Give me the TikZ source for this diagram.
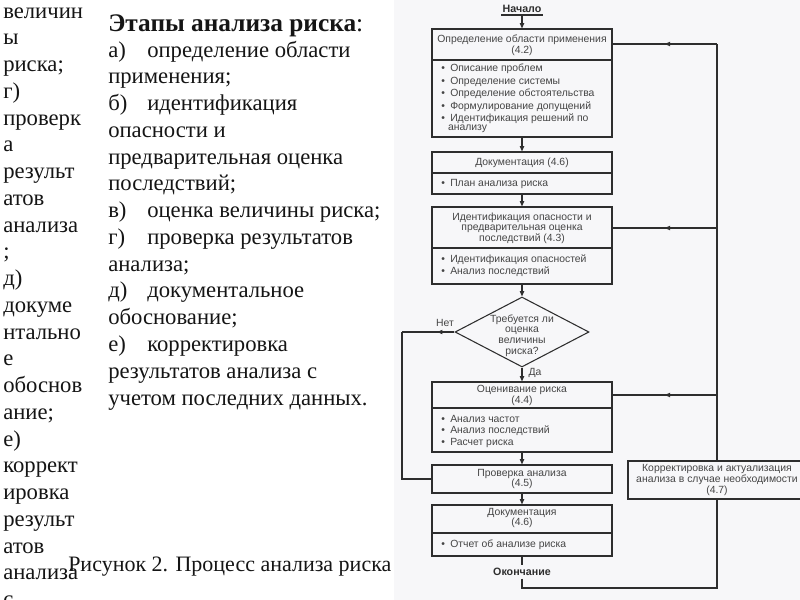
\documentclass[tikz,border=0pt]{standalone}
\usepackage{fontspec}
\setmainfont{Liberation Serif}
\newfontfamily\fcfont{Liberation Sans}
\usetikzlibrary{shapes.geometric,arrows.meta,decorations.markings}
\definecolor{bgc}{HTML}{F7F7F9}
\definecolor{lc}{HTML}{2E2E2E}
\definecolor{tc}{HTML}{454545}
\definecolor{txt}{HTML}{151515}
\begin{document}
\begin{tikzpicture}[x=0.75pt,y=-0.75pt,
  lt/.style={anchor=base west, inner sep=0, text=txt, font=\fontsize{17}{20}\selectfont},
  box/.style={draw=lc, line width=0.8pt, fill=bgc, minimum width=135pt, inner sep=0},
  ft/.style={font=\fcfont\fontsize{7.8}{8}\selectfont, text=tc, inner sep=0, align=center},
  bl/.style={font=\fcfont\fontsize{7.8}{8}\selectfont, text=tc, inner sep=0, anchor=west, align=left},
  ln/.style={draw=lc, line width=0.8pt},
  arr/.style={ln, -{Triangle[length=4pt,width=3.2pt]}},
  midarr/.style={ln, postaction={decorate}, decoration={markings, mark=at position #1 with {\arrow{Triangle[length=4pt,width=3.2pt]}}}},
  term/.style={font=\fcfont\bfseries\fontsize{8}{9}\selectfont, text=lc, inner sep=0}
]
\useasboundingbox (0,0) rectangle (800,600);
\fill[white] (0,0) rectangle (800,600);
\fill[bgc] (394,0) rectangle (800,600);

% ---------- left overflowing column ----------
\foreach \t [count=\k from 0] in {величин,ы,риска;,г),проверк,а,результ,атов,анализа,;,д),докуме,нтально,е,обоснов,ание;,е),коррект,ировка,результ,атов,анализа,с}
  \node[lt] (lc\k) at (3,{18+26.75*\k}) {\t};

% ---------- right text column ----------
\node[lt, font=\fontsize{19}{22}\selectfont] (hd) at (108,31) {\textbf{Этапы анализа риска}:};
\foreach \t [count=\k from 0] in {%
  \makebox[29.25pt][l]{а)}определение области,
  применения;,
  \makebox[29.25pt][l]{б)}идентификация,
  опасности и,
  предварительная оценка,
  последствий;,
  \makebox[29.25pt][l]{в)}оценка величины риска;,
  \makebox[29.25pt][l]{г)}проверка результатов,
  анализа;,
  \makebox[29.25pt][l]{д)}документальное,
  обоснование;,
  \makebox[29.25pt][l]{е)}корректировка,
  результатов анализа с,
  учетом последних данных.}
  \node[lt] (rc\k) at (108,{57+26.77*\k}) {\t};

\node[lt, font=\fontsize{16.5}{20}\selectfont] (cap) at (68,571) {Рисунок 2. Процесс анализа риска};

% ---------- flowchart ----------
\node[term] (start) at (522,8.5) {Начало};
\coordinate (su) at (522,15);
\draw[ln] (501,15) -- (543,15);

\node[box, minimum height=81pt] (b1) at (522,83) {};
\draw[ln] (432,60) -- (612,60);
\node[ft] (b1h) at (522,45) {Определение области применения\\(4.2)};
\node[bl] at (441,69) {\makebox[6.75pt][l]{•}Описание проблем};
\node[bl] at (441,81.5) {\makebox[6.75pt][l]{•}Определение системы};
\node[bl] at (441,94) {\makebox[6.75pt][l]{•}Определение обстоятельства};
\node[bl] at (441,106.5) {\makebox[6.75pt][l]{•}Формулирование допущений};
\node[bl] at (441,118.5) {\makebox[6.75pt][l]{•}Идентификация решений по};
\node[bl] at (447.75,128.5) {анализу};

\node[box, minimum height=31.5pt] (b2) at (522,173) {};
\draw[ln] (432,173) -- (612,173);
\node[ft] (b2h) at (522,163) {Документация (4.6)};
\node[bl] at (441,183.5) {\makebox[6.75pt][l]{•}План анализа риска};

\node[box, minimum height=57.75pt] (b3) at (522,245.5) {};
\draw[ln] (432,248) -- (612,248);
\node[ft] (b3h) at (522,228) {Идентификация опасности и\\предварительная оценка\\последствий (4.3)};
\node[bl] at (441,259.5) {\makebox[6.75pt][l]{•}Идентификация опасностей};
\node[bl] at (441,271.5) {\makebox[6.75pt][l]{•}Анализ последствий};

\node[diamond, draw=lc, line width=0.8pt, fill=bgc, minimum width=100.5pt, minimum height=52.5pt, inner sep=0] (d) at (522,332) {};
\node[ft] (dt) at (522,335.5) {Требуется ли\\оценка\\величины\\риска?};
\node[ft] (no) at (445,322.5) {Нет};
\node[ft] (yes) at (535,372.5) {Да};

\node[box, minimum height=52.5pt] (b4) at (522,417) {};
\draw[ln] (432,408) -- (612,408);
\node[ft] (b4h) at (522,395.5) {Оценивание риска\\(4.4)};
\node[bl] at (441,418.5) {\makebox[6.75pt][l]{•}Анализ частот};
\node[bl] at (441,430.5) {\makebox[6.75pt][l]{•}Анализ последствий};
\node[bl] at (441,442.5) {\makebox[6.75pt][l]{•}Расчет риска};

\node[box, minimum height=21pt] (b5) at (522,479) {};
\node[ft] (b5h) at (522,479) {Проверка анализа\\(4.5)};

\node[box, minimum height=38.25pt] (b6) at (522,530.5) {};
\draw[ln] (432,533) -- (612,533);
\node[ft] (b6h) at (522,518) {Документация\\(4.6)};
\node[bl] at (441,544.5) {\makebox[6.75pt][l]{•}Отчет об анализе риска};

\node[term] (end) at (522,572) {Окончание};
\coordinate (e1) at (522,565);
\coordinate (e2) at (522,578.5);
\coordinate (e3) at (522,588);

\node[box, minimum width=133.5pt, minimum height=28.5pt] (b7) at (717,480) {};
\node[ft] (b7h) at (717,480) {Корректировка и актуализация\\анализа в случае необходимости\\(4.7)};

% vertical flow
\draw[arr] (su) -- (b1.north);
\draw[arr] (b1.south) -- (b2.north);
\draw[arr] (b2.south) -- (b3.north);
\draw[arr] (b3.south) -- (d.north);
\draw[arr] (d.south) -- (b4.north);
\draw[arr] (b4.south) -- (b5.north);
\draw[arr] (b5.south) -- (b6.north);
\draw[ln] (b6.south) -- (e1);

% left loop (Нет)
\coordinate (l1) at (402,332);
\coordinate (l2) at (402,479);
\draw[midarr=0.33] (d.west) -- (l1);
\draw[ln] (l1) -- (l2) -- (b5.west);

% right feedback
\coordinate (r1) at (717,44);
\coordinate (r2) at (717,228);
\coordinate (r3) at (717,395);
\coordinate (r4) at (717,588);
\draw[ln] (b7.north) -- (r1);
\draw[midarr=0.5] (r1) -- (r1 -| b1.east);
\draw[midarr=0.5] (r2) -- (r2 -| b3.east);
\draw[midarr=0.5] (r3) -- (r3 -| b4.east);
\draw[ln] (e2) -- (e3) -- (r4) -- (b7.south);
\end{tikzpicture}
\end{document}
